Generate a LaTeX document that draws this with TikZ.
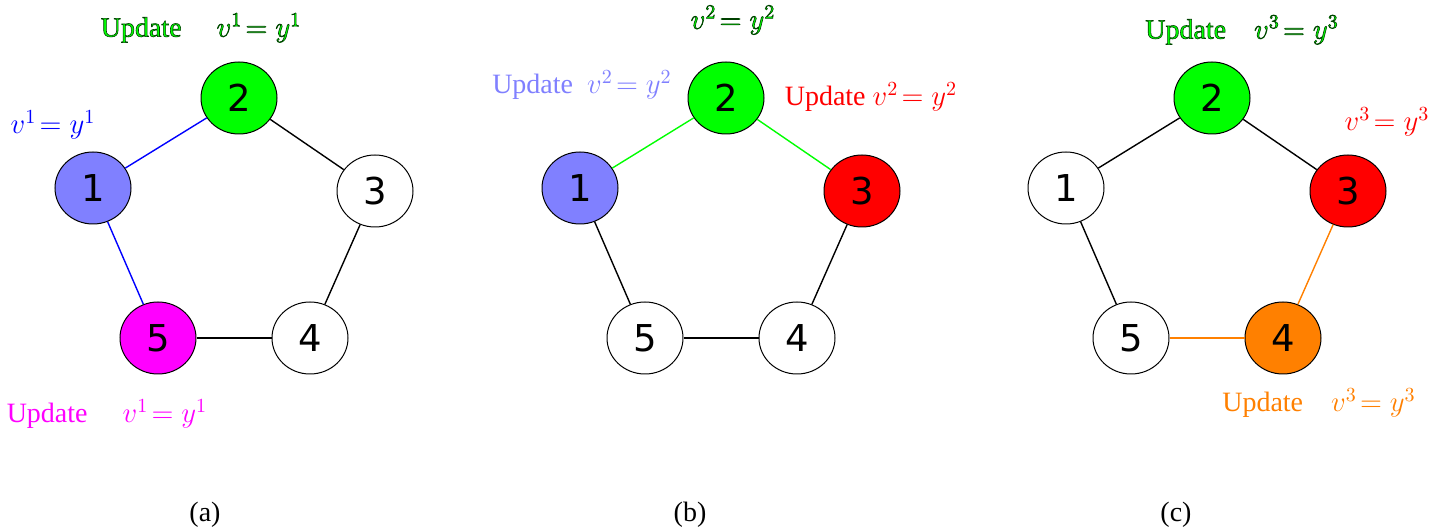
\documentclass[tikz,border=0pt]{standalone}
\usepackage{fontspec}
\setmainfont{Liberation Serif}
\newfontfamily\numfont{DejaVu Sans}
\usetikzlibrary{shapes.geometric}
\definecolor{nblue}{RGB}{128,128,255}
\definecolor{ngreen}{RGB}{0,255,0}
\definecolor{nmag}{RGB}{255,0,255}
\definecolor{nred}{RGB}{255,0,0}
\definecolor{norange}{RGB}{255,128,0}
\definecolor{eblue}{RGB}{0,0,255}
\newcommand{\outl}[1]{\special{pdf:literal direct 2 Tr 0.3 w 0 0.25 0 RG}#1\special{pdf:literal direct 0 Tr}}
\tikzset{
  vtx/.style={ellipse,draw=black,line width=0.5pt,minimum width=38pt,minimum height=36pt,inner sep=0pt,font=\numfont\fontsize{18.5}{20}\selectfont},
  edge/.style={line width=0.7pt},
  lbl/.style={inner sep=0pt,font=\fontsize{14}{16}\selectfont},
  captxt/.style={inner sep=0pt,font=\fontsize{14}{16}\selectfont}
}
\begin{document}
\begin{tikzpicture}[x=0.5pt,y=-0.5pt]
\useasboundingbox[fill=white] (0,0) rectangle (1432,529);
% ---------- panel (a)
\node[vtx,fill=ngreen] (a2) at (239,98) {2};
\node[vtx,fill=nblue] (a1) at (93,188) {1};
\node[vtx,fill=white] (a3) at (375,191) {3};
\node[vtx,fill=nmag] (a5) at (158,338) {5};
\node[vtx,fill=white] (a4) at (310,338) {4};
\draw[edge,eblue] (a1) -- (a2);
\draw[edge,eblue] (a1) -- (a5);
\draw[edge] (a2) -- (a3);
\draw[edge] (a3) -- (a4);
\draw[edge] (a4) -- (a5);
\node[lbl,text=ngreen] (la1) at (201,28) {\outl{Update\quad\ $v^1\!= y^1$}};
\node[lbl,text=eblue] (la2) at (53,125) {$v^1\!= y^1$};
\node[lbl,text=nmag] (la3) at (107,414) {Update\quad\ $v^1\!= y^1$};
\node[captxt] (ca) at (205,515) {(a)};
% ---------- panel (b)
\node[vtx,fill=ngreen] (b2) at (726,98) {2};
\node[vtx,fill=nblue] (b1) at (580,188) {1};
\node[vtx,fill=nred] (b3) at (862,191) {3};
\node[vtx,fill=white] (b5) at (645,338) {5};
\node[vtx,fill=white] (b4) at (797,338) {4};
\draw[edge,ngreen] (b1) -- (b2);
\draw[edge,ngreen] (b2) -- (b3);
\draw[edge] (b1) -- (b5);
\draw[edge] (b3) -- (b4);
\draw[edge] (b4) -- (b5);
\node[lbl,text=ngreen] (lb1) at (733,20) {\outl{$v^2\!= y^2$}};
\node[lbl,text=nblue] (lb2) at (582,85) {Update\ \ $v^2\!= y^2$};
\node[lbl,text=nred] (lb3) at (871,97) {Update $v^2\!= y^2$};
\node[captxt] (cb) at (690,515) {(b)};
% ---------- panel (c)
\node[vtx,fill=ngreen] (c2) at (1212,98) {2};
\node[vtx,fill=white] (c1) at (1066,188) {1};
\node[vtx,fill=nred] (c3) at (1348,191) {3};
\node[vtx,fill=white] (c5) at (1131,338) {5};
\node[vtx,fill=norange] (c4) at (1283,338) {4};
\draw[edge] (c1) -- (c2);
\draw[edge] (c2) -- (c3);
\draw[edge] (c1) -- (c5);
\draw[edge,norange] (c3) -- (c4);
\draw[edge,norange] (c4) -- (c5);
\node[lbl,text=ngreen] (lc1) at (1242,30) {\outl{Update\quad $v^3\!= y^3$}};
\node[lbl,text=nred] (lc2) at (1387,122) {$v^3\!= y^3$};
\node[lbl,text=norange] (lc3) at (1319,403) {Update\quad $v^3\!= y^3$};
\node[captxt] (cc) at (1176,515) {(c)};
\end{tikzpicture}
\end{document}
